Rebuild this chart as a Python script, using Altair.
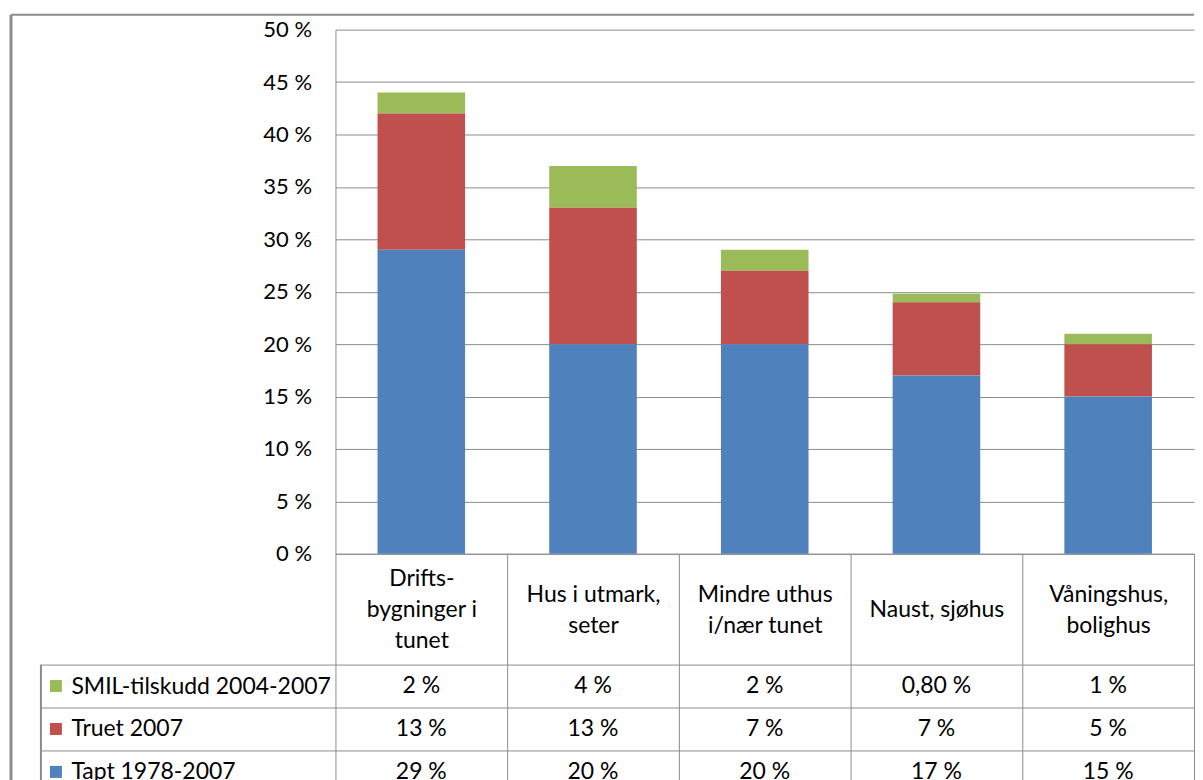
import altair as alt
import pandas as pd

# ---- data ----
categories = [
    "Drifts-\nbygninger i\ntunet",
    "Hus i utmark,\nseter",
    "Mindre uthus\ni/nær tunet",
    "Naust, sjøhus",
    "Våningshus,\nbolighus",
]
series = ["SMIL-tilskudd 2004-2007", "Truet 2007", "Tapt 1978-2007"]
smil = [2, 4, 2, 0.8, 1]
truet = [13, 13, 7, 7, 5]
tapt = [29, 20, 20, 17, 15]
colors = ["#9BBB59", "#C0504D", "#4F81BD"]
y_ticks = [0, 5, 10, 15, 20, 25, 30, 35, 40, 45, 50]

FONT = "Lato"
FS = 22
FS_T = 23
LH = 31
GRAY = "#8C8C8C"


def fmt(v):
    if v % 1:
        return f"{v:.2f}".replace(".", ",") + " %"
    return f"{int(v)} %"


rows = []
for s, vals, order in [(series[0], smil, 2), (series[1], truet, 1), (series[2], tapt, 0)]:
    for c, v in zip(categories, vals):
        rows.append({"category": c, "series": s, "value": v, "label": fmt(v), "stack_order": order})
df = pd.DataFrame(rows)
leg_df = pd.DataFrame({"series": series})
one = pd.DataFrame({"a": [0]})

color_scale = alt.Scale(domain=series, range=colors)

nlines = "length(split(datum.label, '\\n'))"
header_pad = {
    "condition": [
        {"test": f"{nlines} == 3", "value": -55 - LH},
        {"test": f"{nlines} == 2", "value": -55 - LH / 2},
    ],
    "value": -55,
}

# ---- top: stacked bars ----
bars = alt.Chart(df).mark_bar(width=alt.RelativeBandSize(0.51)).encode(
    x=alt.X(
        "category:N",
        sort=categories,
        scale=alt.Scale(paddingInner=0, paddingOuter=0),
        axis=alt.Axis(
            title=None, labelAngle=0, tickBand="extent", tickSize=111, tickColor=GRAY,
            domainColor=GRAY, labelExpr="split(datum.label, '\\n')", labelBaseline="middle",
            labelPadding=header_pad, labelFont=FONT, labelFontSize=FS_T, labelLineHeight=LH,
            labelColor="black", labelOverlap=False, labelLimit=0,
        ),
    ),
    y=alt.Y(
        "value:Q",
        stack="zero",
        scale=alt.Scale(domain=[0, 50], nice=False),
        axis=alt.Axis(
            title=None, values=y_ticks, labelExpr="datum.value + ' %'", grid=True,
            gridColor=GRAY, ticks=False, domainColor=GRAY, labelPadding=24,
            labelFont=FONT, labelFontSize=FS, labelColor="black",
        ),
    ),
    color=alt.Color("series:N", scale=color_scale, legend=None),
    order=alt.Order("stack_order:Q"),
)

frame_left = alt.Chart(one).mark_rule(color=GRAY, strokeWidth=3).encode(
    x=alt.value(-325), y=alt.value(-15), y2=alt.value(800)
)
frame_top = alt.Chart(one).mark_rule(color=GRAY, strokeWidth=2).encode(
    x=alt.value(-325), x2=alt.value(860), y=alt.value(-15)
)

top = alt.layer(bars, frame_left, frame_top).properties(width=860, height=525)

# ---- bottom: data table ----
tx = alt.X(
    "category:N",
    sort=categories,
    scale=alt.Scale(paddingInner=0, paddingOuter=0),
    axis=alt.Axis(title=None, labels=False, ticks=False, domain=False, grid=True,
                  tickBand="extent", gridColor=GRAY),
)
ty = alt.Y(
    "series:N",
    sort=series,
    scale=alt.Scale(paddingInner=0, paddingOuter=0),
    axis=alt.Axis(title=None, tickBand="extent", tickSize=295, tickColor=GRAY, domain=False,
                  grid=True, gridColor=GRAY, labelAlign="left", labelPadding=-30,
                  labelFont=FONT, labelFontSize=FS_T, labelColor="black", labelLimit=0),
)

cells = alt.Chart(df).mark_text(font=FONT, fontSize=FS_T, color="black").encode(
    x=tx, y=ty, text="label:N"
)
squares = alt.Chart(leg_df).mark_point(shape="square", filled=True, size=144, opacity=1).encode(
    x=alt.value(-280),
    y=alt.Y("series:N", sort=series),
    color=alt.Color("series:N", scale=color_scale, legend=None),
)
table_left = alt.Chart(one).mark_rule(color=GRAY, strokeWidth=2).encode(
    x=alt.value(-295), y=alt.value(0), y2=alt.value(129)
)

table = alt.layer(cells, squares, table_left).properties(width=860, height=129)

chart = alt.vconcat(top, table, spacing=111, bounds="flush").properties(
    padding={"left": 1, "top": 4, "right": 0, "bottom": 0}
).configure_view(stroke=None)

chart.save("out.html", embed_options={"renderer": "svg", "actions": False})
